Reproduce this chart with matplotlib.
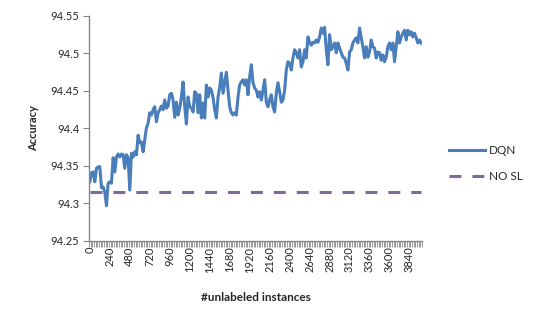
import numpy as np
import matplotlib
matplotlib.use("Agg")
import matplotlib.pyplot as plt
from matplotlib.ticker import FixedLocator, FuncFormatter

plt.rcParams['font.family'] = ['Lato', 'DejaVu Sans']

#横軸のカテゴリ（ラベルなしインスタンス数）
instances = list(range(0, 4000, 20))

#DQNの精度
dqn = [
    94.329, 94.341, 94.342, 94.329, 94.347, 94.349, 94.349, 94.321, 94.322, 94.315,
    94.297, 94.327, 94.329, 94.327, 94.361, 94.342, 94.362, 94.366, 94.362, 94.366,
    94.365, 94.347, 94.365, 94.361, 94.318, 94.367, 94.362, 94.369, 94.365, 94.391,
    94.381, 94.382, 94.369, 94.385, 94.401, 94.407, 94.421, 94.418, 94.425, 94.429,
    94.409, 94.421, 94.425, 94.430, 94.425, 94.438, 94.427, 94.430, 94.445, 94.447,
    94.438, 94.415, 94.435, 94.418, 94.427, 94.442, 94.462, 94.429, 94.406, 94.442,
    94.429, 94.427, 94.422, 94.449,
    94.447, 94.421, 94.445, 94.414, 94.434, 94.414, 94.458, 94.442, 94.454, 94.451,
    94.441, 94.425, 94.414, 94.442, 94.455, 94.474, 94.447, 94.461, 94.475, 94.451,
    94.429, 94.421, 94.418, 94.421, 94.418, 94.442, 94.458, 94.462, 94.465, 94.458,
    94.465, 94.445, 94.469, 94.485, 94.461, 94.454, 94.451, 94.442, 94.449, 94.438,
    94.451, 94.465, 94.435, 94.429, 94.438, 94.445, 94.429, 94.422, 94.447, 94.461,
    94.449, 94.435, 94.438, 94.451, 94.478, 94.489, 94.487, 94.478, 94.494, 94.505,
    94.501, 94.494, 94.505, 94.482, 94.489, 94.505,
    94.494, 94.522, 94.515, 94.511, 94.515, 94.514, 94.518, 94.515, 94.522, 94.534,
    94.527, 94.535, 94.505, 94.485, 94.525, 94.505, 94.509, 94.514, 94.501, 94.514,
    94.507, 94.501, 94.495, 94.494, 94.487, 94.478, 94.502, 94.505, 94.514, 94.518,
    94.521, 94.514, 94.534, 94.521, 94.509, 94.494, 94.509, 94.495, 94.502, 94.518,
    94.509, 94.507, 94.494, 94.502, 94.501, 94.491, 94.498, 94.489, 94.495, 94.509,
    94.514, 94.505, 94.514, 94.489, 94.509, 94.529, 94.514, 94.522, 94.527, 94.531,
    94.518, 94.531, 94.525, 94.529, 94.522, 94.527, 94.521, 94.514, 94.518, 94.514,
]

#教師なし学習なしのベースライン
no_sl = [94.315] * len(instances)

y_ticks = [94.25, 94.3, 94.35, 94.4, 94.45, 94.5, 94.55]

axis_gray = '#868686'
text_color = '#262626'

fig = plt.figure(figsize=(5.38, 3.23), dpi=100)
ax = fig.add_axes([0.1654, 0.2539, 0.619, 0.6966])

idx = np.arange(len(instances))
ax.plot(idx, dqn, color='#4a7ebb', lw=2.2, solid_joinstyle='round', label='DQN')
ax.plot(idx, no_sl, color='#7b6a9b', lw=2.2, dashes=(3.9, 3.6), label='NO SL')

ax.set_xlim(-0.5, len(instances) - 0.5)
ax.set_ylim(94.25, 94.55)

#縦軸
ax.set_yticks(y_ticks)
ax.yaxis.set_major_formatter(FuncFormatter(lambda v, p: '{:g}'.format(round(v, 2))))
ax.tick_params(axis='y', direction='out', length=4, color=axis_gray,
               labelsize=8, labelcolor=text_color, pad=3)

#横軸（目盛りは全カテゴリ境界、ラベルは12個おき）
ax.set_xticks(idx[::12])
ax.set_xticklabels([str(instances[i]) for i in idx[::12]], rotation=90)
ax.xaxis.set_minor_locator(FixedLocator(np.arange(-0.5, len(instances), 1)))
ax.tick_params(axis='x', which='major', length=0, labelsize=8,
               labelcolor=text_color, pad=4)
ax.tick_params(axis='x', which='minor', direction='out', length=4,
               color=axis_gray, width=0.6)

for s in ['top', 'right']:
    ax.spines[s].set_visible(False)
for s in ['left', 'bottom']:
    ax.spines[s].set_color(axis_gray)
    ax.spines[s].set_linewidth(1.0)

ax.set_ylabel('Accuracy', fontsize=8, fontweight='bold', color=text_color, labelpad=8)
ax.set_xlabel('#unlabeled instances', fontsize=8.5, fontweight='bold', color=text_color,
              labelpad=14)

fig.legend(loc='upper left', bbox_to_anchor=(0.815, 0.585), frameon=False,
           fontsize=8.5, handlelength=3.0, handletextpad=0.4, labelspacing=1.3,
           labelcolor=text_color)

fig.savefig('out.png', dpi=100)
